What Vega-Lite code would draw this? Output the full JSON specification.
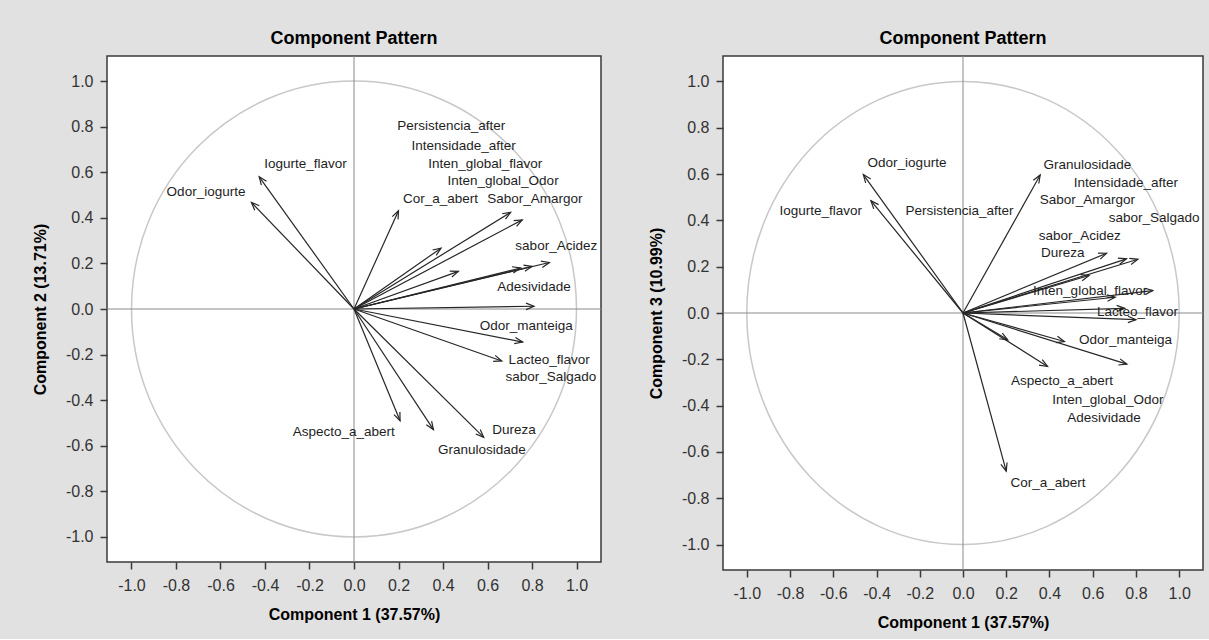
{
  "$schema": "https://vega.github.io/schema/vega-lite/v6.json",
  "background": "#e1e1e1",
  "padding": {"left": 31, "top": 28, "right": 5, "bottom": 8},
  "spacing": 44,
  "datasets": {
    "loadings": [
      {"var": "Persistencia_after", "pc1": 0.748, "pc2": 0.180, "pc3": 0.020, "l2x": 0.437, "l2y": 0.801, "l3x": -0.016, "l3y": 0.440},
      {"var": "Intensidade_after", "pc1": 0.809, "pc2": 0.012, "pc3": 0.232, "l2x": 0.493, "l2y": 0.714, "l3x": 0.753, "l3y": 0.560},
      {"var": "Inten_global_flavor", "pc1": 0.704, "pc2": 0.424, "pc3": 0.068, "l2x": 0.590, "l2y": 0.635, "l3x": 0.588, "l3y": 0.096},
      {"var": "Inten_global_Odor", "pc1": 0.391, "pc2": 0.267, "pc3": -0.231, "l2x": 0.670, "l2y": 0.561, "l3x": 0.670, "l3y": -0.374},
      {"var": "Cor_a_abert", "pc1": 0.200, "pc2": 0.431, "pc3": -0.683, "l2x": 0.389, "l2y": 0.481, "l3x": 0.393, "l3y": -0.736},
      {"var": "Sabor_Amargor", "pc1": 0.756, "pc2": 0.391, "pc3": 0.234, "l2x": 0.813, "l2y": 0.481, "l3x": 0.575, "l3y": 0.488},
      {"var": "sabor_Acidez", "pc1": 0.878, "pc2": 0.204, "pc3": 0.097, "l2x": 0.909, "l2y": 0.277, "l3x": 0.540, "l3y": 0.333},
      {"var": "Adesividade", "pc1": 0.469, "pc2": 0.165, "pc3": -0.123, "l2x": 0.809, "l2y": 0.095, "l3x": 0.652, "l3y": -0.453},
      {"var": "Iogurte_flavor", "pc1": -0.426, "pc2": 0.580, "pc3": 0.485, "l2x": -0.218, "l2y": 0.634, "l3x": -0.658, "l3y": 0.440},
      {"var": "Odor_iogurte", "pc1": -0.461, "pc2": 0.468, "pc3": 0.598, "l2x": -0.665, "l2y": 0.512, "l3x": -0.259, "l3y": 0.647},
      {"var": "Odor_manteiga", "pc1": 0.758, "pc2": -0.145, "pc3": -0.221, "l2x": 0.774, "l2y": -0.075, "l3x": 0.752, "l3y": -0.116},
      {"var": "Lacteo_flavor", "pc1": 0.800, "pc2": 0.187, "pc3": -0.029, "l2x": 0.877, "l2y": -0.225, "l3x": 0.807, "l3y": 0.006},
      {"var": "sabor_Salgado", "pc1": 0.664, "pc2": -0.228, "pc3": 0.258, "l2x": 0.885, "l2y": -0.300, "l3x": 0.884, "l3y": 0.412},
      {"var": "Aspecto_a_abert", "pc1": 0.207, "pc2": -0.490, "pc3": -0.116, "l2x": -0.046, "l2y": -0.541, "l3x": 0.458, "l3y": -0.295},
      {"var": "Dureza", "pc1": 0.583, "pc2": -0.563, "pc3": 0.162, "l2x": 0.719, "l2y": -0.529, "l3x": 0.461, "l3y": 0.258},
      {"var": "Granulosidade", "pc1": 0.357, "pc2": -0.529, "pc3": 0.596, "l2x": 0.575, "l2y": -0.617, "l3x": 0.575, "l3y": 0.641}
    ],
    "unit": [{"r": 1}]
  },
  "hconcat": [
    {
      "width": 494,
      "height": 506,
      "title": "Component Pattern",
      "layer": [
        {
          "data": {"name": "unit"},
          "mark": {"type": "point", "shape": "M-1,0A1,1.0243 0 1,0 1,0A1,1.0243 0 1,0 -1,0Z", "size": 198025, "filled": false, "stroke": "#c8c8c8", "strokeWidth": 1.5, "opacity": 1},
          "encoding": {
            "x": {"datum": 0, "type": "quantitative", "scale": {"domain": [-1.11, 1.11], "nice": false, "zero": false}, "axis": {"title": "Component 1 (37.57%)", "values": [-1, -0.8, -0.6, -0.4, -0.2, 0, 0.2, 0.4, 0.6, 0.8, 1], "format": ".1f"}},
            "y": {"datum": 0, "type": "quantitative", "scale": {"domain": [-1.11, 1.11], "nice": false, "zero": false}, "axis": {"title": "Component 2 (13.71%)", "values": [-1, -0.8, -0.6, -0.4, -0.2, 0, 0.2, 0.4, 0.6, 0.8, 1], "format": ".1f"}}
          }
        },
        {
          "data": {"name": "unit"},
          "mark": {"type": "rule", "color": "#8a8a8a", "strokeWidth": 1},
          "encoding": {"x": {"datum": 0, "type": "quantitative"}}
        },
        {
          "data": {"name": "unit"},
          "mark": {"type": "rule", "color": "#8a8a8a", "strokeWidth": 1},
          "encoding": {"y": {"datum": 0, "type": "quantitative"}}
        },
        {
          "data": {"name": "loadings"},
          "mark": {"type": "rule", "color": "#262626", "strokeWidth": 1.2},
          "encoding": {
            "x": {"field": "pc1", "type": "quantitative", "title": "Component 1 (37.57%)"},
            "y": {"field": "pc2", "type": "quantitative", "title": "Component 2 (13.71%)"},
            "x2": {"datum": 0},
            "y2": {"datum": 0}
          }
        },
        {
          "data": {"name": "loadings"},
          "transform": [{"calculate": "atan2(datum.pc1, datum.pc2) * 180 / PI", "as": "ang"}],
          "mark": {"type": "point", "shape": "M-0.4,1L0,0L0.4,1", "size": 256, "filled": false, "stroke": "#262626", "strokeWidth": 1.2, "opacity": 1},
          "encoding": {
            "x": {"field": "pc1", "type": "quantitative", "title": "Component 1 (37.57%)"},
            "y": {"field": "pc2", "type": "quantitative", "title": "Component 2 (13.71%)"},
            "angle": {"field": "ang", "type": "quantitative", "scale": null}
          }
        },
        {
          "data": {"name": "loadings"},
          "mark": {"type": "text", "font": "Liberation Sans", "fontSize": 13.5, "color": "#1e1e1e", "align": "center", "baseline": "middle"},
          "encoding": {
            "x": {"field": "l2x", "type": "quantitative", "title": "Component 1 (37.57%)"},
            "y": {"field": "l2y", "type": "quantitative", "title": "Component 2 (13.71%)"},
            "text": {"field": "var"}
          }
        }
      ]
    },
    {
      "width": 480,
      "height": 514,
      "title": "Component Pattern",
      "layer": [
        {
          "data": {"name": "unit"},
          "mark": {"type": "point", "shape": "M-1,0A1,1.0708 0 1,0 1,0A1,1.0708 0 1,0 -1,0Z", "size": 186970, "filled": false, "stroke": "#c8c8c8", "strokeWidth": 1.5, "opacity": 1},
          "encoding": {
            "x": {"datum": 0, "type": "quantitative", "scale": {"domain": [-1.11, 1.11], "nice": false, "zero": false}, "axis": {"title": "Component 1 (37.57%)", "values": [-1, -0.8, -0.6, -0.4, -0.2, 0, 0.2, 0.4, 0.6, 0.8, 1], "format": ".1f"}},
            "y": {"datum": 0, "type": "quantitative", "scale": {"domain": [-1.11, 1.11], "nice": false, "zero": false}, "axis": {"title": "Component 3 (10.99%)", "values": [-1, -0.8, -0.6, -0.4, -0.2, 0, 0.2, 0.4, 0.6, 0.8, 1], "format": ".1f"}}
          }
        },
        {
          "data": {"name": "unit"},
          "mark": {"type": "rule", "color": "#8a8a8a", "strokeWidth": 1},
          "encoding": {"x": {"datum": 0, "type": "quantitative"}}
        },
        {
          "data": {"name": "unit"},
          "mark": {"type": "rule", "color": "#8a8a8a", "strokeWidth": 1},
          "encoding": {"y": {"datum": 0, "type": "quantitative"}}
        },
        {
          "data": {"name": "loadings"},
          "mark": {"type": "rule", "color": "#262626", "strokeWidth": 1.2},
          "encoding": {
            "x": {"field": "pc1", "type": "quantitative", "title": "Component 1 (37.57%)"},
            "y": {"field": "pc3", "type": "quantitative", "title": "Component 3 (10.99%)"},
            "x2": {"datum": 0},
            "y2": {"datum": 0}
          }
        },
        {
          "data": {"name": "loadings"},
          "transform": [{"calculate": "atan2(datum.pc1, datum.pc3) * 180 / PI", "as": "ang"}],
          "mark": {"type": "point", "shape": "M-0.4,1L0,0L0.4,1", "size": 256, "filled": false, "stroke": "#262626", "strokeWidth": 1.2, "opacity": 1},
          "encoding": {
            "x": {"field": "pc1", "type": "quantitative", "title": "Component 1 (37.57%)"},
            "y": {"field": "pc3", "type": "quantitative", "title": "Component 3 (10.99%)"},
            "angle": {"field": "ang", "type": "quantitative", "scale": null}
          }
        },
        {
          "data": {"name": "loadings"},
          "mark": {"type": "text", "font": "Liberation Sans", "fontSize": 13.5, "color": "#1e1e1e", "align": "center", "baseline": "middle"},
          "encoding": {
            "x": {"field": "l3x", "type": "quantitative", "title": "Component 1 (37.57%)"},
            "y": {"field": "l3y", "type": "quantitative", "title": "Component 3 (10.99%)"},
            "text": {"field": "var"}
          }
        }
      ]
    }
  ],
  "config": {
    "locale": {"number": {"decimal": ".", "thousands": ",", "grouping": [3], "currency": ["", ""], "minus": "-"}},
    "view": {"fill": "white", "stroke": "#3a3a3a", "strokeWidth": 1.5},
    "title": {"font": "Liberation Sans", "fontSize": 18, "fontWeight": "bold", "color": "#000000", "offset": 8},
    "axis": {
      "domain": false,
      "grid": false,
      "ticks": true,
      "tickSize": 7,
      "tickColor": "#3a3a3a",
      "tickWidth": 1.5,
      "labelFont": "Liberation Sans",
      "labelFontSize": 16,
      "labelColor": "#333333",
      "titleFont": "Liberation Sans",
      "titleFontSize": 16,
      "titleFontWeight": "bold",
      "titleColor": "#000000"
    },
    "axisX": {"labelPadding": 8, "titlePadding": 13},
    "axisY": {"labelPadding": 7, "titlePadding": 17}
  }
}
